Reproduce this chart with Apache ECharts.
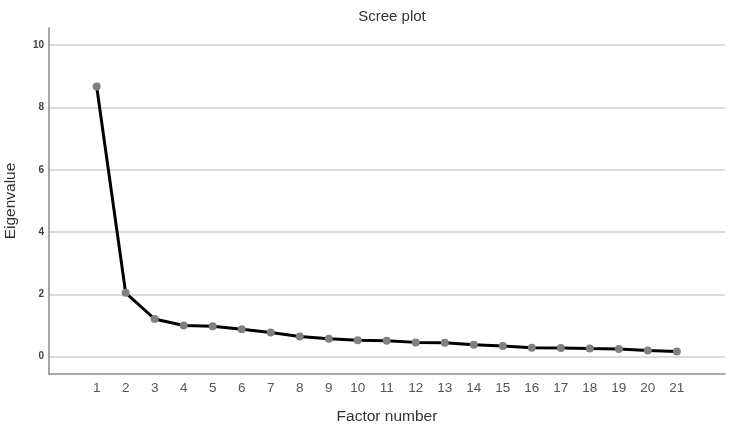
<!DOCTYPE html>
<html>
<head>
<meta charset="utf-8">
<script src="https://cdn.jsdelivr.net/npm/echarts@6/dist/echarts.min.js"></script>
<style>html,body{margin:0;padding:0;background:#fff;}#c{width:730px;height:426px;}</style>
</head>
<body>
<div id="c"></div>
<script>
var factors = [1,2,3,4,5,6,7,8,9,10,11,12,13,14,15,16,17,18,19,20,21];
var eigenvalues = [8.67,2.05,1.21,1.00,0.98,0.88,0.78,0.65,0.58,0.53,0.51,0.46,0.45,0.38,0.34,0.29,0.28,0.26,0.25,0.20,0.17];
var yTicks = [0,2,4,6,8,10];

var chart = echarts.init(document.getElementById('c'));
chart.setOption({
  animation: false,
  backgroundColor: '#fff',
  title: {
    text: 'Scree plot',
    left: 387, top: 4, textAlign: 'center',
    textStyle: {fontFamily: 'Liberation Sans, Arial', fontSize: 15, fontWeight: 'normal', color: '#333'}
  },
  grid: {left: 49, right: 5, top: 28, bottom: 52, containLabel: false, outerBoundsMode: 'none'},
  xAxis: {
    type: 'value',
    min: -0.643, max: 22.66,
    name: 'Factor number',
    nameLocation: 'middle', nameGap: 35,
    nameTextStyle: {fontFamily: 'Liberation Sans, Arial', fontSize: 15.5, color: '#333'},
    axisLine: {show: true, onZero: false, lineStyle: {color: '#8a8a8a', width: 1.5}},
    axisTick: {show: false, customValues: factors},
    splitLine: {show: false},
    axisLabel: {customValues: factors, margin: 7, fontFamily: 'Liberation Sans, Arial', fontSize: 13.5, color: '#555', showMinLabel: true, showMaxLabel: true}
  },
  yAxis: {
    type: 'value',
    min: -0.555, max: 10.55,
    name: 'Eigenvalue',
    nameLocation: 'middle', nameGap: 30,
    nameTextStyle: {fontFamily: 'Liberation Sans, Arial', fontSize: 15.5, color: '#333'},
    axisLine: {show: true, onZero: false, lineStyle: {color: '#8a8a8a', width: 1.5}},
    axisTick: {show: false, customValues: yTicks},
    splitLine: {show: true, lineStyle: {color: '#cfcfcf', width: 1.5}},
    axisLabel: {customValues: yTicks, margin: 5, fontFamily: 'Liberation Sans, Arial', fontSize: 10, fontWeight: 'bold', color: '#444'}
  },
  series: [{
    type: 'line',
    data: factors.map(function(f, i){ return [f, eigenvalues[i]]; }),
    lineStyle: {color: '#000', width: 3},
    symbol: 'circle', symbolSize: 8,
    itemStyle: {color: '#808080'},
    z: 3
  }]
});
</script>
</body>
</html>
